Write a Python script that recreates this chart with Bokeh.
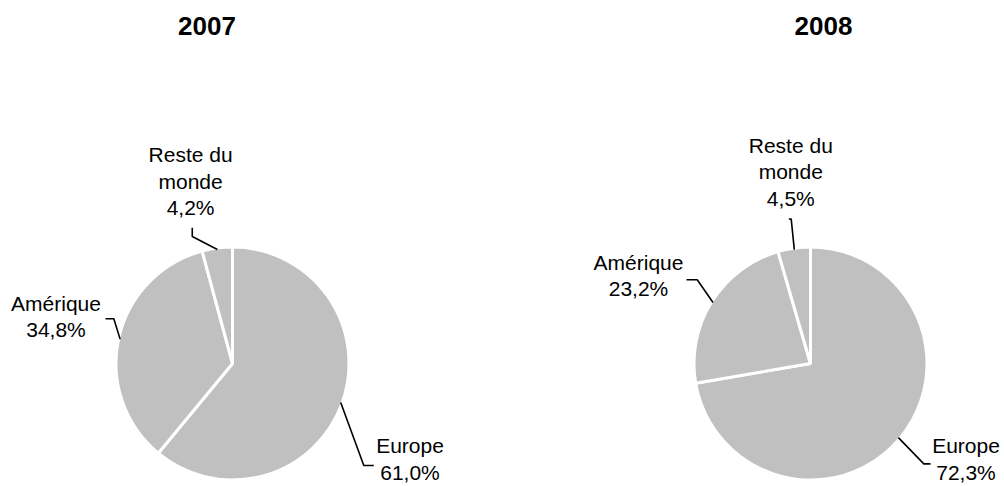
import numpy as np
from bokeh.plotting import figure
from bokeh.models import Range1d
from bokeh.core.properties import value
from bokeh.embed import file_html
from bokeh.resources import INLINE

# ---------------- data ----------------
years = ["2007", "2008"]
regions = ["Europe", "Amérique", "Reste du monde"]
share_2007 = [61.0, 34.8, 4.2]
share_2008 = [72.3, 23.2, 4.5]
region_label_lines = [["Europe"], ["Amérique"], ["Reste du", "monde"]]

# ---------------- layout (pixels) ----------------
W, H = 1004, 486
X0, Y0 = 0, 0
pie_cx = [232, 810]
pie_cy = 363
R_VIS = 115
STROKE = 3
title_x = [206.5, 823]
title_baseline = 36 - 10.5
LABEL_DY = -9.5
LINE_GAP = 26.5
# leader elbow / end offsets (image px, y downward), per pie, per slice
leader_elbow = [[(23.1, 63.0), (-6.3, -20.4), (-25.1, -13.0)],
                [(25.4, 26.2), (-15.8, -22.8), (-3.1, -30.7)]]
leader_tail = [[(10.0, 0.0), (-8.3, 0.0), (0.0, -8.7)],
               [(6.7, 0.0), (-10.7, 0.0), (-2.4, 0.0)]]
# label centre x offset and last-line baseline offset from the edge point
label_off = [[(69.3, 79.5), (-64.1, 0.3), (-26.8, -32.0)],
             [(67.6, 44.0), (-74.5, -4.1), (-3.5, -42.0)]]

FILL = "#c0c0c0"
FONT = "Liberation Sans"

p = figure(width=W, height=H, output_backend="svg", toolbar_location=None,
           x_range=Range1d(X0, X0 + W), y_range=Range1d(-(Y0 + H), -Y0),
           x_axis_location=None, y_axis_location=None, min_border=0,
           outline_line_color=None, background_fill_color="white",
           border_fill_color="white")
p.grid.visible = False

all_shares = [share_2007, share_2008]

wx, wy, ws, we = [], [], [], []
lxs, lys = [], []
tx, ty, tt = [], [], []

for k, shares in enumerate(all_shares):
    frac = np.array(shares) / np.sum(shares)
    cum = np.concatenate([[0.0], np.cumsum(frac)])
    cx, cy = pie_cx[k], pie_cy
    for i in range(len(shares)):
        wx.append(cx)
        wy.append(-cy)
        ws.append(np.pi / 2 - 2 * np.pi * cum[i])
        we.append(np.pi / 2 - 2 * np.pi * cum[i + 1])
        mid = 2 * np.pi * (cum[i] + cum[i + 1]) / 2  # clockwise from top
        ax = cx + R_VIS * np.sin(mid)
        ay = cy - R_VIS * np.cos(mid)
        ex, ey = ax + leader_elbow[k][i][0], ay + leader_elbow[k][i][1]
        fx, fy = ex + leader_tail[k][i][0], ey + leader_tail[k][i][1]
        lxs.append([ax, ex, fx])
        lys.append([-ay, -ey, -fy])
        lines = region_label_lines[i] + [f"{shares[i]:.1f}".replace(".", ",") + "%"]
        lx = ax + label_off[k][i][0]
        last = ay + label_off[k][i][1] + LABEL_DY
        n = len(lines)
        for j, t in enumerate(lines):
            tx.append(lx)
            ty.append(-(last - (n - 1 - j) * LINE_GAP))
            tt.append(t)

p.wedge(x=wx, y=wy, radius=R_VIS + STROKE / 2, start_angle=ws, end_angle=we,
        direction="clock", fill_color=FILL, line_color="white", line_width=STROKE)

p.multi_line(xs=lxs, ys=lys, line_color="black", line_width=1.6)

p.text(x=tx, y=ty, text=tt, text_font=value(FONT), text_font_size=value("21px"),
       text_align="center", text_baseline="alphabetic", text_color="black")

p.text(x=title_x, y=[-title_baseline] * 2, text=years, text_font=value(FONT),
       text_font_size=value("26px"), text_font_style="bold", text_align="center",
       text_baseline="alphabetic", text_color="black")

open("out.html", "w").write(file_html(p, INLINE))
